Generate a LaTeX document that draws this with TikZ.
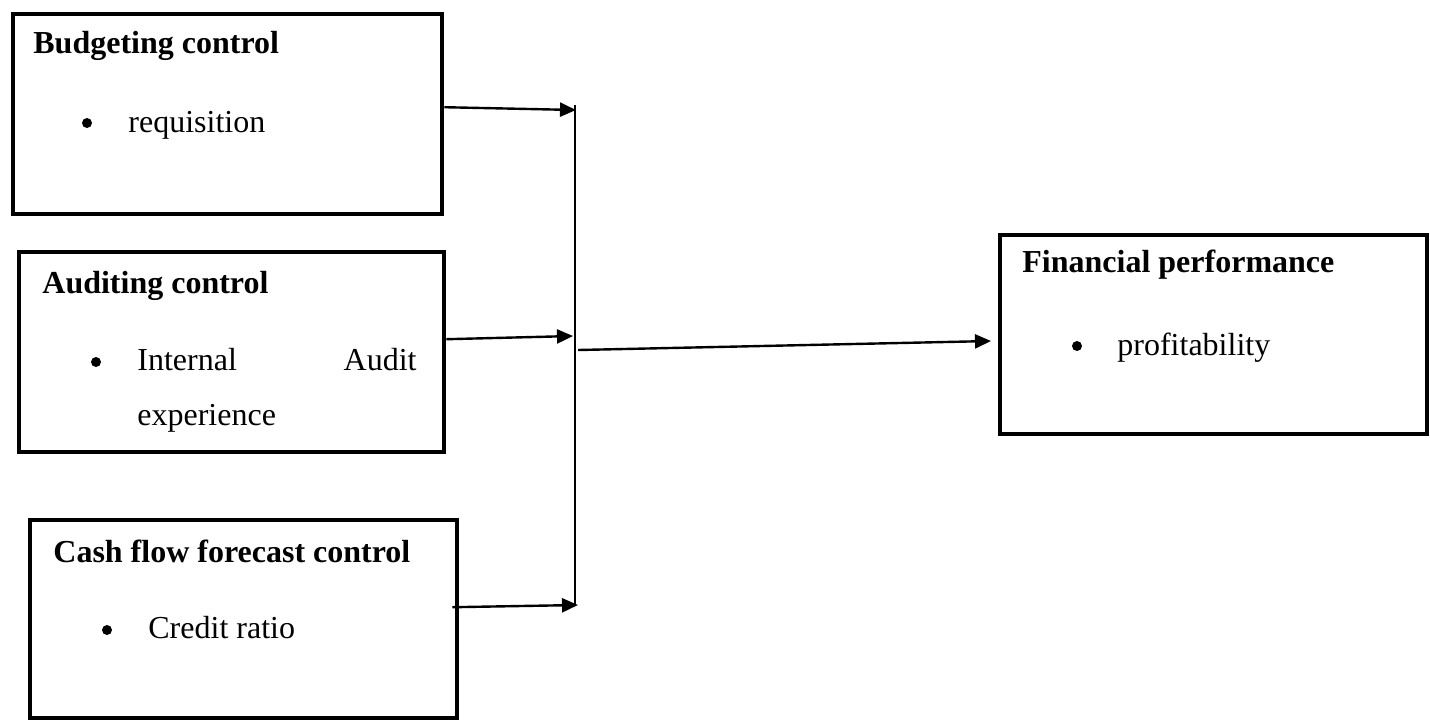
\documentclass[tikz,border=0pt]{standalone}
\usepackage{fontspec}
\setmainfont{Liberation Serif}
\usepackage{tikz}
\usetikzlibrary{arrows.meta, positioning}

\begin{document}
\begin{tikzpicture}[
  x=0.5pt, y=-0.5pt,
  box/.style={draw, line width=2.2pt, anchor=north west, inner sep=0pt},
  hdr/.style={anchor=base west, inner sep=0pt, font=\fontsize{16pt}{19pt}\selectfont\bfseries},
  item/.style={anchor=base west, inner sep=0pt, font=\fontsize{16pt}{19pt}\selectfont},
  dot/.style={circle, fill, inner sep=0pt, minimum size=5pt},
  link/.style={-{Triangle[length=8pt, width=7pt]}, line width=1.2pt},
  bus/.style={line width=1pt},
]
  \useasboundingbox (0,0) rectangle (1430,720);

  %% Boxes
  \node[box, minimum width=429*0.5pt, minimum height=200*0.5pt] (budget) at (11,12) {};
  \node[box, minimum width=425*0.5pt, minimum height=200*0.5pt] (audit)  at (17,250) {};
  \node[box, minimum width=427*0.5pt, minimum height=198*0.5pt] (cash)   at (28,518) {};
  \node[box, minimum width=427*0.5pt, minimum height=199*0.5pt] (perf)   at (998,233) {};

  %% Texts
  \node[hdr] (budgethdr) at (33,53) {Budgeting control};
  \node[dot] (budgetdot) at (87,123) {};
  \node[item] (budgetitem) at (128,132) {requisition};

  \node[hdr] (audithdr) at (42,293) {Auditing control};
  \node[dot] (auditdot) at (96,362) {};
  \node[item] (audititema) at (137,370) {Internal};
  \node[item, anchor=base east] (audititemb) at (417,370) {Audit};
  \node[item] (audititemc) at (137,425) {experience};

  \node[hdr] (cashhdr) at (53,562) {Cash flow forecast control};
  \node[dot] (cashdot) at (107,630) {};
  \node[item] (cashitem) at (148,638) {Credit ratio};

  \node[hdr] (perfhdr) at (1022,272) {Financial performance};
  \node[dot] (perfdot) at (1077,346) {};
  \node[item] (perfitem) at (1117,355) {profitability};

  %% Junction line
  \coordinate (bustop) at (575,105);
  \coordinate (busbot) at (575,605);
  \coordinate (j1) at (576,110);
  \coordinate (j2) at (573,336);
  \coordinate (j3) at (578,605);
  \coordinate (jout) at (578,350);
  \coordinate (pin) at (991,341);
  \draw[bus] (bustop) -- (busbot);

  %% Arrows
  \draw[link] ([yshift=3.5pt]budget.east) -- (j1);
  \draw[link] ([yshift=6.5pt]audit.east) -- (j2);
  \draw[link] ([xshift=-3.5pt, yshift=6pt]cash.east) -- (j3);
  \draw[link] (jout) -- (pin);
\end{tikzpicture}
\end{document}
